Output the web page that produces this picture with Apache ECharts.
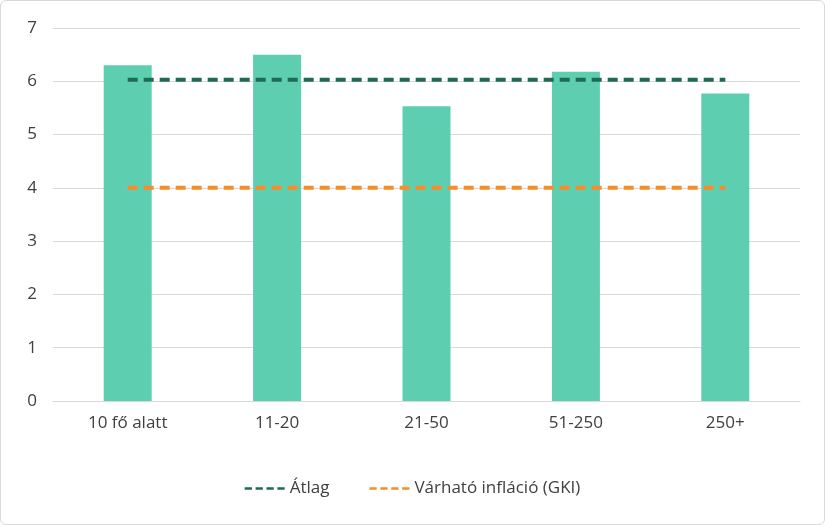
<!DOCTYPE html>
<html>
<head>
<meta charset="utf-8">
<script src="https://cdn.jsdelivr.net/npm/echarts@6/dist/echarts.min.js"></script>
<style>
  html, body { margin: 0; padding: 0; background: #fff; }
  #chart { width: 823px; height: 523px; border: 1px solid #d9d9d9; border-radius: 6px; }
</style>
</head>
<body>
<div id="chart"></div>
<script>
const categories = ['10 fő alatt', '11-20', '21-50', '51-250', '250+'];
const values = [6.3, 6.5, 5.53, 6.18, 5.77];
const average = [6.03, 6.03, 6.03, 6.03, 6.03];
const inflation = [4, 4, 4, 4, 4];

const chart = echarts.init(document.getElementById('chart'));
const font = { fontFamily: 'Open Sans', fontSize: 17, color: '#404040' };
chart.setOption({
  animation: false,
  grid: { left: 52, right: 24, top: 27, bottom: 123 },
  legend: {
    bottom: 22,
    itemGap: 40,
    itemWidth: 40,
    textStyle: font,
    data: [
      { name: 'Átlag', icon: 'path://M0,0h8v3h-8zM12,0h8v3h-8zM24,0h8v3h-8zM36,0h8v3h-8z' },
      { name: 'Várható infláció (GKI)', icon: 'path://M0,0h8v3h-8zM12,0h8v3h-8zM24,0h8v3h-8zM36,0h8v3h-8z' }
    ]
  },
  xAxis: {
    type: 'category',
    data: categories,
    axisTick: { show: false },
    axisLine: { lineStyle: { color: '#d9d9d9' } },
    axisLabel: Object.assign({ margin: 14 }, font)
  },
  yAxis: {
    type: 'value',
    min: 0, max: 7, interval: 1,
    axisLabel: Object.assign({ margin: 16 }, font),
    splitLine: { lineStyle: { color: '#d9d9d9' } }
  },
  series: [
    { name: 'Érték', type: 'bar', data: values, barWidth: 48, itemStyle: { color: '#5DCFB0' } },
    { name: 'Átlag', type: 'line', data: average, symbol: 'none',
      lineStyle: { color: '#1E6B52', width: 4, type: [10, 6] }, itemStyle: { color: '#1E6B52' } },
    { name: 'Várható infláció (GKI)', type: 'line', data: inflation, symbol: 'none',
      lineStyle: { color: '#F98B2A', width: 4, type: [10, 6] }, itemStyle: { color: '#F98B2A' } }
  ]
});
</script>
</body>
</html>
